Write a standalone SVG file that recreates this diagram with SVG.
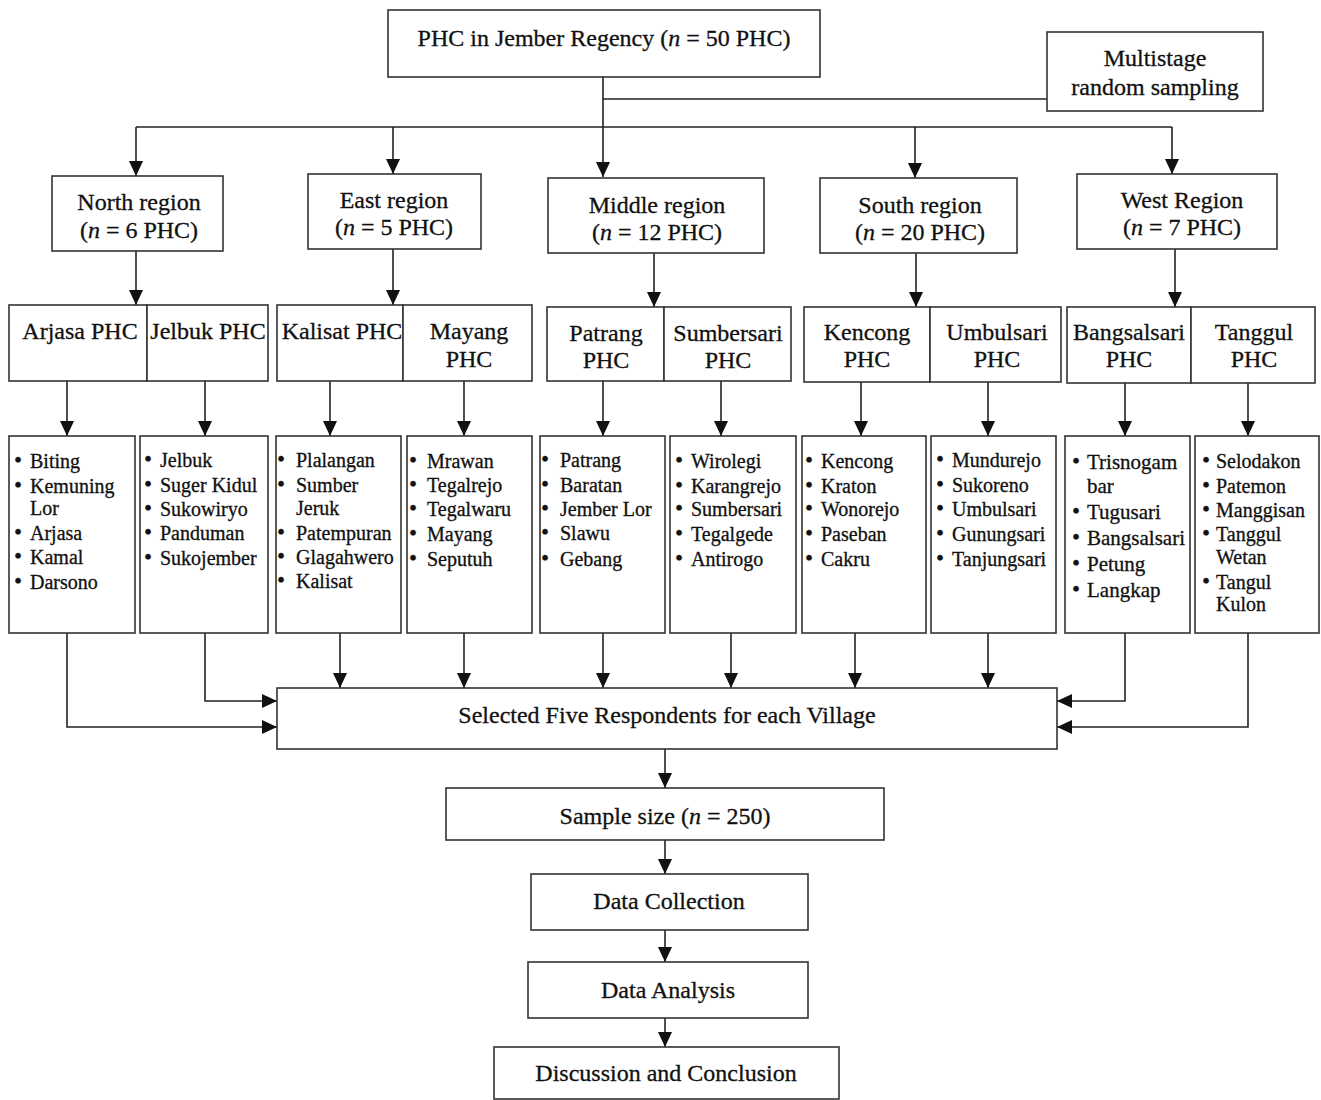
<svg xmlns="http://www.w3.org/2000/svg" width="1321" height="1100" viewBox="0 0 1321 1100">
<style>
  .box { fill:#fff; stroke:#333; stroke-width:1.6; }
  .t { font-family:"Liberation Serif","Times New Roman",serif; font-size:24px; fill:#111; stroke:#111; stroke-width:0.3; text-anchor:middle; }
  .v { font-family:"Liberation Serif","Times New Roman",serif; font-size:20px; fill:#111; stroke:#111; stroke-width:0.3; }
  .v21 { font-size:21px; }
  .b { font-size:23px; }
  .c { fill:none; stroke:#222; stroke-width:1.6; marker-end:url(#ah); }
  .p { fill:none; stroke:#222; stroke-width:1.6; }
  .i { font-style:italic; }
</style>
<defs>
  <marker id="ah" markerUnits="userSpaceOnUse" markerWidth="16" markerHeight="16" refX="15" refY="7" orient="auto">
    <path d="M0,0 L15,7 L0,14 Z" fill="#111"/>
  </marker>
</defs>
<rect width="1321" height="1100" fill="#fff"/>

<!-- connectors -->
<g id="connectors">
  <path class="c" d="M603,77 V177"/>
  <path class="p" d="M603,99 H1047"/>
  <path class="p" d="M136,127 H1172"/>
  <path class="c" d="M136,127 V176"/>
  <path class="c" d="M393,127 V174"/>
  <path class="c" d="M915,127 V178"/>
  <path class="c" d="M1172,127 V174"/>

  <path class="c" d="M136,251 V305"/>
  <path class="c" d="M393,249 V305"/>
  <path class="c" d="M654,253 V307"/>
  <path class="c" d="M916,253 V307"/>
  <path class="c" d="M1175,249 V307"/>

  <path class="c" d="M67,381 V436"/>
  <path class="c" d="M205,381 V436"/>
  <path class="c" d="M330,381 V436"/>
  <path class="c" d="M464,381 V436"/>
  <path class="c" d="M603,381 V436"/>
  <path class="c" d="M721,381 V436"/>
  <path class="c" d="M861,382 V436"/>
  <path class="c" d="M988,382 V436"/>
  <path class="c" d="M1125,383 V436"/>
  <path class="c" d="M1248,383 V436"/>

  <path class="c" d="M67,633 V727 H277"/>
  <path class="c" d="M205,633 V701 H277"/>
  <path class="c" d="M340,633 V688"/>
  <path class="c" d="M464,633 V688"/>
  <path class="c" d="M603,633 V688"/>
  <path class="c" d="M731,633 V688"/>
  <path class="c" d="M855,633 V688"/>
  <path class="c" d="M988,633 V688"/>
  <path class="c" d="M1125,633 V701 H1057"/>
  <path class="c" d="M1248,633 V727 H1057"/>

  <path class="c" d="M665,749 V788"/>
  <path class="c" d="M665,840 V874"/>
  <path class="c" d="M665,930 V962"/>
  <path class="c" d="M665,1018 V1047"/>
</g>

<!-- top level -->
<g id="jember">
  <rect class="box" x="388" y="10" width="432" height="67"/>
  <text class="t" x="604" y="46">PHC in Jember Regency (<tspan class="i">n</tspan> = 50 PHC)</text>
</g>
<g id="sampling">
  <rect class="box" x="1047" y="32" width="216" height="79"/>
  <text class="t" x="1155" y="66">Multistage</text>
  <text class="t" x="1155" y="95">random sampling</text>
</g>

<!-- regions -->
<g id="north">
  <rect class="box" x="52" y="176" width="171" height="75"/>
  <text class="t" x="139" y="210">North region</text>
  <text class="t" x="139" y="238">(<tspan class="i">n</tspan> = 6 PHC)</text>
</g>
<g id="east">
  <rect class="box" x="308" y="174" width="173" height="75"/>
  <text class="t" x="394" y="208">East region</text>
  <text class="t" x="394" y="235">(<tspan class="i">n</tspan> = 5 PHC)</text>
</g>
<g id="middle">
  <rect class="box" x="548" y="178" width="216" height="75"/>
  <text class="t" x="657" y="213">Middle region</text>
  <text class="t" x="657" y="240">(<tspan class="i">n</tspan> = 12 PHC)</text>
</g>
<g id="south">
  <rect class="box" x="820" y="178" width="197" height="75"/>
  <text class="t" x="920" y="213">South region</text>
  <text class="t" x="920" y="240">(<tspan class="i">n</tspan> = 20 PHC)</text>
</g>
<g id="west">
  <rect class="box" x="1077" y="174" width="200" height="75"/>
  <text class="t" x="1182" y="208">West Region</text>
  <text class="t" x="1182" y="235">(<tspan class="i">n</tspan> = 7 PHC)</text>
</g>

<!-- health centres -->
<g id="arjasa-phc">
  <rect class="box" x="9" y="305" width="138" height="76"/>
  <text class="t" x="80" y="339">Arjasa PHC</text>
</g>
<g id="jelbuk-phc">
  <rect class="box" x="147" y="305" width="121" height="76"/>
  <text class="t" x="208" y="339">Jelbuk PHC</text>
</g>
<g id="kalisat-phc">
  <rect class="box" x="277" y="305" width="126" height="76"/>
  <text class="t" x="342" y="339">Kalisat PHC</text>
</g>
<g id="mayang-phc">
  <rect class="box" x="403" y="305" width="129" height="76"/>
  <text class="t" x="469" y="339">Mayang</text>
  <text class="t" x="469" y="367">PHC</text>
</g>
<g id="patrang-phc">
  <rect class="box" x="547" y="307" width="117" height="74"/>
  <text class="t" x="606" y="341">Patrang</text>
  <text class="t" x="606" y="368">PHC</text>
</g>
<g id="sumbersari-phc">
  <rect class="box" x="664" y="307" width="127" height="74"/>
  <text class="t" x="728" y="341">Sumbersari</text>
  <text class="t" x="728" y="368">PHC</text>
</g>
<g id="kencong-phc">
  <rect class="box" x="804" y="307" width="126" height="75"/>
  <text class="t" x="867" y="340">Kencong</text>
  <text class="t" x="867" y="367">PHC</text>
</g>
<g id="umbulsari-phc">
  <rect class="box" x="930" y="307" width="131" height="75"/>
  <text class="t" x="997" y="340">Umbulsari</text>
  <text class="t" x="997" y="367">PHC</text>
</g>
<g id="bangsalsari-phc">
  <rect class="box" x="1067" y="307" width="124" height="76"/>
  <text class="t" x="1129" y="340">Bangsalsari</text>
  <text class="t" x="1129" y="367">PHC</text>
</g>
<g id="tanggul-phc">
  <rect class="box" x="1191" y="307" width="124" height="76"/>
  <text class="t" x="1254" y="340">Tanggul</text>
  <text class="t" x="1254" y="367">PHC</text>
</g>

<!-- villages -->
<g id="arjasa-villages">
  <rect class="box" x="9" y="436" width="126" height="197"/>
  <text class="v" y="468"><tspan class="b" x="14">•</tspan><tspan x="30">Biting</tspan></text>
  <text class="v" y="493"><tspan class="b" x="14">•</tspan><tspan x="30">Kemuning</tspan></text>
  <text class="v" x="30" y="515">Lor</text>
  <text class="v" y="540"><tspan class="b" x="14">•</tspan><tspan x="30">Arjasa</tspan></text>
  <text class="v" y="564"><tspan class="b" x="14">•</tspan><tspan x="30">Kamal</tspan></text>
  <text class="v" y="589"><tspan class="b" x="14">•</tspan><tspan x="30">Darsono</tspan></text>
</g>
<g id="jelbuk-villages">
  <rect class="box" x="140" y="436" width="128" height="197"/>
  <text class="v" y="467"><tspan class="b" x="144">•</tspan><tspan x="160">Jelbuk</tspan></text>
  <text class="v" y="492"><tspan class="b" x="144">•</tspan><tspan x="160">Suger Kidul</tspan></text>
  <text class="v" y="516"><tspan class="b" x="144">•</tspan><tspan x="160">Sukowiryo</tspan></text>
  <text class="v" y="540"><tspan class="b" x="144">•</tspan><tspan x="160">Panduman</tspan></text>
  <text class="v" y="565"><tspan class="b" x="144">•</tspan><tspan x="160">Sukojember</tspan></text>
</g>
<g id="kalisat-villages">
  <rect class="box" x="276" y="436" width="125" height="197"/>
  <text class="v" y="467"><tspan class="b" x="277">•</tspan><tspan x="296">Plalangan</tspan></text>
  <text class="v" y="492"><tspan class="b" x="277">•</tspan><tspan x="296">Sumber</tspan></text>
  <text class="v" x="296" y="515">Jeruk</text>
  <text class="v" y="540"><tspan class="b" x="277">•</tspan><tspan x="296">Patempuran</tspan></text>
  <text class="v" y="564"><tspan class="b" x="277">•</tspan><tspan x="296">Glagahwero</tspan></text>
  <text class="v" y="588"><tspan class="b" x="277">•</tspan><tspan x="296">Kalisat</tspan></text>
</g>
<g id="mayang-villages">
  <rect class="box" x="407" y="436" width="125" height="197"/>
  <text class="v" y="468"><tspan class="b" x="409">•</tspan><tspan x="427">Mrawan</tspan></text>
  <text class="v" y="492"><tspan class="b" x="409">•</tspan><tspan x="427">Tegalrejo</tspan></text>
  <text class="v" y="516"><tspan class="b" x="409">•</tspan><tspan x="427">Tegalwaru</tspan></text>
  <text class="v" y="541"><tspan class="b" x="409">•</tspan><tspan x="427">Mayang</tspan></text>
  <text class="v" y="566"><tspan class="b" x="409">•</tspan><tspan x="427">Seputuh</tspan></text>
</g>
<g id="patrang-villages">
  <rect class="box" x="540" y="436" width="125" height="197"/>
  <text class="v" y="467"><tspan class="b" x="541">•</tspan><tspan x="560">Patrang</tspan></text>
  <text class="v" y="492"><tspan class="b" x="541">•</tspan><tspan x="560">Baratan</tspan></text>
  <text class="v" y="516"><tspan class="b" x="541">•</tspan><tspan x="560">Jember Lor</tspan></text>
  <text class="v" y="540"><tspan class="b" x="541">•</tspan><tspan x="560">Slawu</tspan></text>
  <text class="v" y="566"><tspan class="b" x="541">•</tspan><tspan x="560">Gebang</tspan></text>
</g>
<g id="sumbersari-villages">
  <rect class="box" x="670" y="436" width="126" height="197"/>
  <text class="v" y="468"><tspan class="b" x="675">•</tspan><tspan x="691">Wirolegi</tspan></text>
  <text class="v" y="493"><tspan class="b" x="675">•</tspan><tspan x="691">Karangrejo</tspan></text>
  <text class="v" y="516"><tspan class="b" x="675">•</tspan><tspan x="691">Sumbersari</tspan></text>
  <text class="v" y="541"><tspan class="b" x="675">•</tspan><tspan x="691">Tegalgede</tspan></text>
  <text class="v" y="566"><tspan class="b" x="675">•</tspan><tspan x="691">Antirogo</tspan></text>
</g>
<g id="kencong-villages">
  <rect class="box" x="802" y="436" width="124" height="197"/>
  <text class="v" y="468"><tspan class="b" x="805">•</tspan><tspan x="821">Kencong</tspan></text>
  <text class="v" y="493"><tspan class="b" x="805">•</tspan><tspan x="821">Kraton</tspan></text>
  <text class="v" y="516"><tspan class="b" x="805">•</tspan><tspan x="821">Wonorejo</tspan></text>
  <text class="v" y="541"><tspan class="b" x="805">•</tspan><tspan x="821">Paseban</tspan></text>
  <text class="v" y="566"><tspan class="b" x="805">•</tspan><tspan x="821">Cakru</tspan></text>
</g>
<g id="umbulsari-villages">
  <rect class="box" x="931" y="436" width="125" height="197"/>
  <text class="v" y="467"><tspan class="b" x="936">•</tspan><tspan x="952">Mundurejo</tspan></text>
  <text class="v" y="492"><tspan class="b" x="936">•</tspan><tspan x="952">Sukoreno</tspan></text>
  <text class="v" y="516"><tspan class="b" x="936">•</tspan><tspan x="952">Umbulsari</tspan></text>
  <text class="v" y="541"><tspan class="b" x="936">•</tspan><tspan x="952">Gunungsari</tspan></text>
  <text class="v" y="566"><tspan class="b" x="936">•</tspan><tspan x="952">Tanjungsari</tspan></text>
</g>
<g id="bangsalsari-villages">
  <rect class="box" x="1065" y="436" width="125" height="197"/>
  <text class="v v21" y="469"><tspan class="b" x="1072">•</tspan><tspan x="1087">Trisnogam</tspan></text>
  <text class="v v21" x="1087" y="493">bar</text>
  <text class="v v21" y="519"><tspan class="b" x="1072">•</tspan><tspan x="1087">Tugusari</tspan></text>
  <text class="v v21" y="545"><tspan class="b" x="1072">•</tspan><tspan x="1087">Bangsalsari</tspan></text>
  <text class="v v21" y="571"><tspan class="b" x="1072">•</tspan><tspan x="1087">Petung</tspan></text>
  <text class="v v21" y="597"><tspan class="b" x="1072">•</tspan><tspan x="1087">Langkap</tspan></text>
</g>
<g id="tanggul-villages">
  <rect class="box" x="1195" y="436" width="124" height="197"/>
  <text class="v" y="468"><tspan class="b" x="1202">•</tspan><tspan x="1216">Selodakon</tspan></text>
  <text class="v" y="493"><tspan class="b" x="1202">•</tspan><tspan x="1216">Patemon</tspan></text>
  <text class="v" y="517"><tspan class="b" x="1202">•</tspan><tspan x="1216">Manggisan</tspan></text>
  <text class="v" y="541"><tspan class="b" x="1202">•</tspan><tspan x="1216">Tanggul</tspan></text>
  <text class="v" x="1216" y="564">Wetan</text>
  <text class="v" y="589"><tspan class="b" x="1202">•</tspan><tspan x="1216">Tangul</tspan></text>
  <text class="v" x="1216" y="611">Kulon</text>
</g>

<!-- sampling and analysis steps -->
<g id="respondents">
  <rect class="box" x="277" y="688" width="780" height="61"/>
  <text class="t" x="667" y="723">Selected Five Respondents for each Village</text>
</g>
<g id="sample-size">
  <rect class="box" x="446" y="788" width="438" height="52"/>
  <text class="t" x="665" y="824">Sample size (<tspan class="i">n</tspan> = 250)</text>
</g>
<g id="data-collection">
  <rect class="box" x="531" y="874" width="277" height="56"/>
  <text class="t" x="669" y="909">Data Collection</text>
</g>
<g id="data-analysis">
  <rect class="box" x="528" y="962" width="280" height="56"/>
  <text class="t" x="668" y="998">Data Analysis</text>
</g>
<g id="conclusion">
  <rect class="box" x="494" y="1047" width="345" height="52"/>
  <text class="t" x="666" y="1081">Discussion and Conclusion</text>
</g>
</svg>
